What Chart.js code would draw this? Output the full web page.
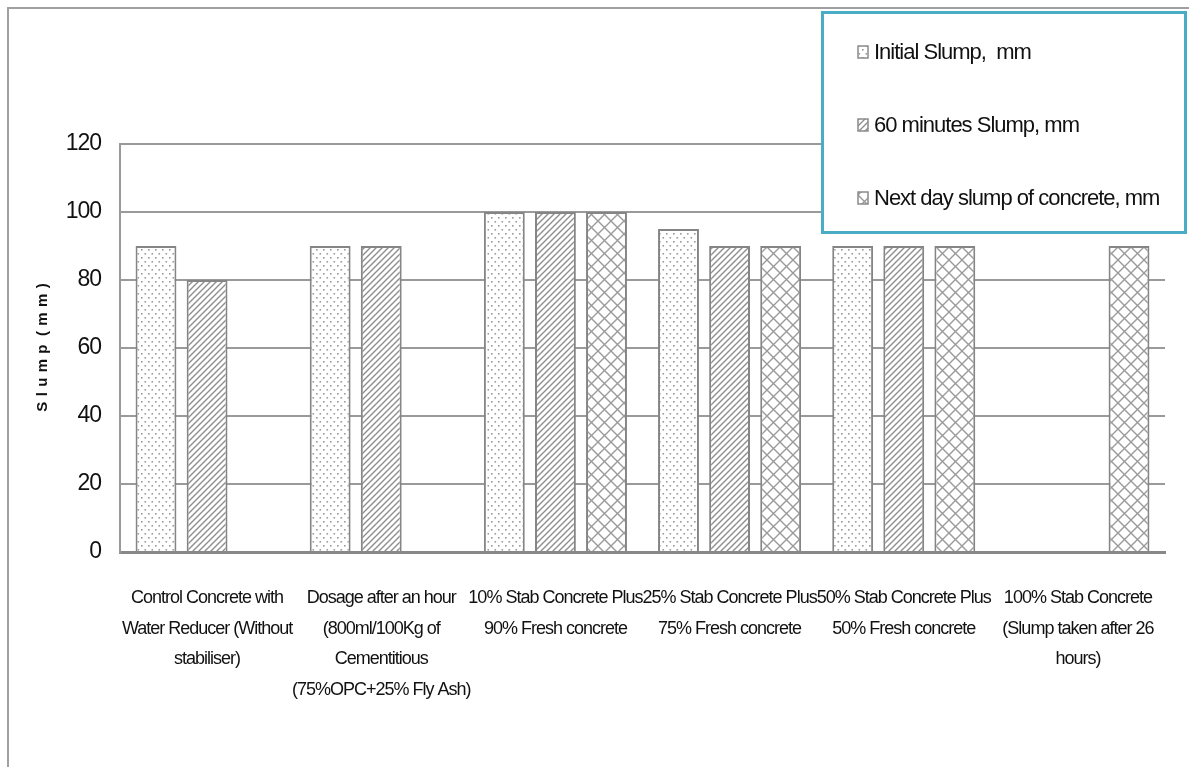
<!DOCTYPE html>
<html><head><meta charset="utf-8">
<script src="https://cdn.jsdelivr.net/npm/chart.js@4"></script>
<style>html,body{margin:0;padding:0;background:#fff;} canvas{display:block;}</style>
</head><body>
<canvas id="c" width="1189" height="767"></canvas>
<script>
const categories = [
  ["Control Concrete with", "Water Reducer (Without", "stabiliser)"],
  ["Dosage after an hour", "(800ml/100Kg of", "Cementitious", "(75%OPC+25% Fly Ash)"],
  ["10% Stab Concrete Plus", "90% Fresh concrete"],
  ["25% Stab Concrete Plus", "75% Fresh concrete"],
  ["50% Stab Concrete Plus", "50% Fresh concrete"],
  ["100% Stab Concrete", "(Slump taken after 26", "hours)"]
];
const seriesNames = ["Initial Slump,  mm", "60 minutes Slump, mm", "Next day slump of concrete, mm"];
const initialSlump = [90, 90, 100, 95, 90, null];
const slump60 = [80, 90, 100, 90, 90, null];
const nextDaySlump = [null, null, 100, 90, 90, 90];
const yTicks = [0, 20, 40, 60, 80, 100, 120];

const F = "'Liberation Sans', Arial, sans-serif";

function makePattern(kind) {
  const c = document.createElement('canvas');
  let w, h;
  if (kind === 'dots') { w = 7; h = 8; }
  else if (kind === 'diag') { w = 6; h = 6; }
  else { w = 13; h = 13; }
  c.width = w; c.height = h;
  const g = c.getContext('2d');
  g.fillStyle = '#fff'; g.fillRect(0, 0, w, h);
  if (kind === 'dots') {
    g.fillStyle = '#9a9a9a';
    g.fillRect(1, 1, 1.6, 1.6);
    g.fillRect(4.5, 5, 1.6, 1.6);
  } else if (kind === 'diag') {
    g.strokeStyle = '#8e8e8e'; g.lineWidth = 1.4;
    g.beginPath();
    g.moveTo(-1, h + 1); g.lineTo(w + 1, -1);
    g.moveTo(-1, 1); g.lineTo(1, -1);
    g.moveTo(w - 1, h + 1); g.lineTo(w + 1, h - 1);
    g.stroke();
  } else {
    g.strokeStyle = '#9a9a9a'; g.lineWidth = 1.4;
    g.beginPath();
    g.moveTo(-1, -1); g.lineTo(w + 1, h + 1);
    g.moveTo(-1, h + 1); g.lineTo(w + 1, -1);
    g.stroke();
  }
  return g.createPattern(c, 'repeat');
}

const patterns = [makePattern('dots'), makePattern('diag'), makePattern('cross')];
const seriesValues = [initialSlump, slump60, nextDaySlump];

const decor = {
  id: 'decor',
  beforeDraw(chart) {
    const ctx = chart.ctx;
    ctx.save();
    ctx.fillStyle = '#fff';
    ctx.fillRect(0, 0, chart.width, chart.height);
    ctx.strokeStyle = '#a0a0a0';
    ctx.lineWidth = 2;
    ctx.strokeRect(8, 8, chart.width + 20, chart.height + 20);
    ctx.restore();
    // condensed look for axis text (Calibri-like)
    ctx.letterSpacing = '-1px';
  },
  beforeDatasetsDraw(chart) {
    chart.ctx.letterSpacing = '0px';
  },
  afterDraw(chart) {
    const ctx = chart.ctx;
    ctx.save();
    ctx.fillStyle = '#fff';
    ctx.fillRect(822, 12, 364, 221);
    ctx.strokeStyle = '#4BACC6';
    ctx.lineWidth = 3;
    ctx.strokeRect(822.5, 12.5, 363, 220);
    ctx.letterSpacing = '-1px';
    chart.data.datasets.forEach((ds, i) => {
      const cy = 52 + i * 73;
      ctx.fillStyle = ds.backgroundColor;
      ctx.fillRect(858, cy - 6, 10, 12);
      ctx.strokeStyle = '#8a8a8a';
      ctx.lineWidth = 1.5;
      ctx.strokeRect(858, cy - 6, 10, 12);
      ctx.fillStyle = '#111';
      ctx.font = '22px ' + F;
      ctx.textBaseline = 'middle';
      ctx.textAlign = 'left';
      ctx.fillText(ds.label, 874, cy + 1);
    });
    ctx.restore();
    ctx.letterSpacing = '0px';
  }
};

new Chart(document.getElementById('c'), {
  type: 'bar',
  data: {
    labels: categories,
    datasets: seriesNames.map((name, i) => ({
      label: name,
      data: seriesValues[i],
      backgroundColor: patterns[i],
      borderColor: '#858585',
      borderWidth: 2,
      barPercentage: 0.8,
      categoryPercentage: 0.88
    }))
  },
  options: {
    responsive: false,
    animation: false,
    layout: { padding: { left: 0, top: 144, right: 24, bottom: 0 } },
    plugins: { legend: { display: false }, tooltip: { enabled: false } },
    scales: {
      x: {
        grid: { display: false, drawTicks: false },
        border: { display: true, color: '#888', width: 3 },
        ticks: { font: { family: F, size: 18, lineHeight: 1.7 }, color: '#111', padding: 31, maxRotation: 0, minRotation: 0, autoSkip: false },
        afterFit(s) { s.height = 215; s.paddingLeft = 0; s.paddingRight = 0; }
      },
      y: {
        min: 0, max: 120,
        afterBuildTicks(s) { s.ticks = yTicks.map(v => ({ value: v })); },
        ticks: { font: { family: F, size: 23 }, color: '#111', padding: 19 },
        grid: { color: '#9a9a9a', lineWidth: 2, drawTicks: false },
        border: { color: '#9a9a9a', width: 2 },
        title: { display: true, text: 'S  l  u  m  p   (  m  m  )', font: { family: F, size: 15, weight: 'bold' }, color: '#111', padding: { top: 34, bottom: 0 } },
        afterFit(s) { s.width = 120; s.paddingTop = 0; s.paddingBottom = 0; }
      }
    }
  },
  plugins: [decor]
});
</script>
</body></html>
